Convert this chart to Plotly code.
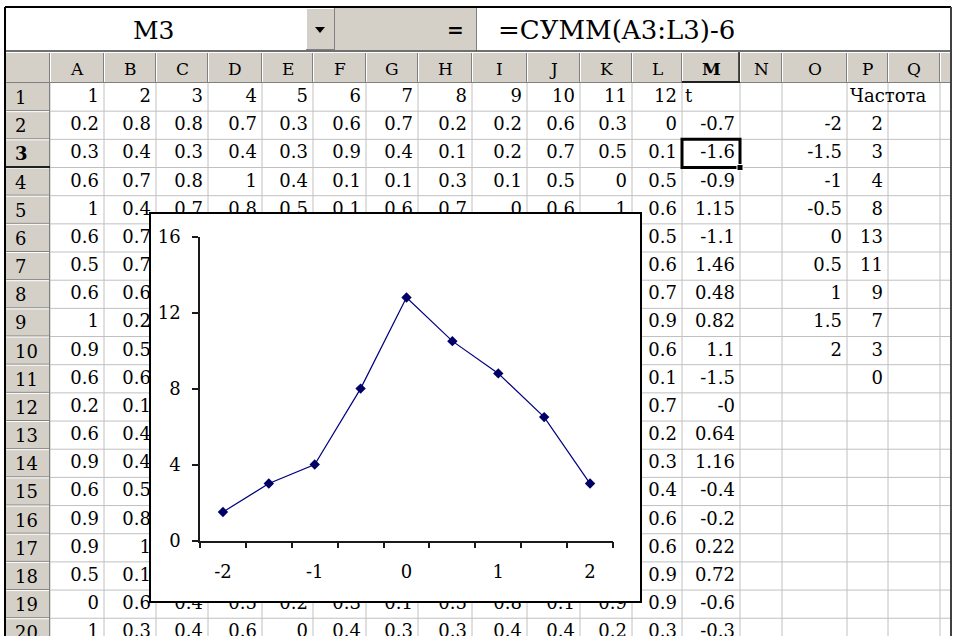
import plotly.graph_objects as go

# ---------------- worksheet contents ----------------
name_box = "M3"
formula_text = "=СУММ(A3:L3)-6"
col_letters = ["A", "B", "C", "D", "E", "F", "G", "H", "I", "J", "K", "L", "M", "N", "O", "P", "Q"]
row_labels = ["1", "2", "3", "4", "5", "6", "7", "8", "9", "10",
              "11", "12", "13", "14", "15", "16", "17", "18", "19", "20"]

# columns A..L ("" = cell lies under the embedded chart)
cells_A_L = [
    ["1", "2", "3", "4", "5", "6", "7", "8", "9", "10", "11", "12"],
    ["0.2", "0.8", "0.8", "0.7", "0.3", "0.6", "0.7", "0.2", "0.2", "0.6", "0.3", "0"],
    ["0.3", "0.4", "0.3", "0.4", "0.3", "0.9", "0.4", "0.1", "0.2", "0.7", "0.5", "0.1"],
    ["0.6", "0.7", "0.8", "1", "0.4", "0.1", "0.1", "0.3", "0.1", "0.5", "0", "0.5"],
    ["1", "0.4", "0.7", "0.8", "0.5", "0.1", "0.6", "0.7", "0", "0.6", "1", "0.6"],
    ["0.6", "0.7", "", "", "", "", "", "", "", "", "", "0.5"],
    ["0.5", "0.7", "", "", "", "", "", "", "", "", "", "0.6"],
    ["0.6", "0.6", "", "", "", "", "", "", "", "", "", "0.7"],
    ["1", "0.2", "", "", "", "", "", "", "", "", "", "0.9"],
    ["0.9", "0.5", "", "", "", "", "", "", "", "", "", "0.6"],
    ["0.6", "0.6", "", "", "", "", "", "", "", "", "", "0.1"],
    ["0.2", "0.1", "", "", "", "", "", "", "", "", "", "0.7"],
    ["0.6", "0.4", "", "", "", "", "", "", "", "", "", "0.2"],
    ["0.9", "0.4", "", "", "", "", "", "", "", "", "", "0.3"],
    ["0.6", "0.5", "", "", "", "", "", "", "", "", "", "0.4"],
    ["0.9", "0.8", "", "", "", "", "", "", "", "", "", "0.6"],
    ["0.9", "1", "", "", "", "", "", "", "", "", "", "0.6"],
    ["0.5", "0.1", "", "", "", "", "", "", "", "", "", "0.9"],
    ["0", "0.6", "0.4", "0.5", "0.2", "0.3", "0.1", "0.5", "0.8", "0.1", "0.9", "0.9"],
    ["1", "0.3", "0.4", "0.6", "0", "0.4", "0.3", "0.3", "0.4", "0.4", "0.2", "0.3"],
]
# column M: t = sum - 6
t_header = "t"
t_values = ["-0.7", "-1.6", "-0.9", "1.15", "-1.1", "1.46", "0.48", "0.82", "1.1", "-1.5",
            "-0", "0.64", "1.16", "-0.4", "-0.2", "0.22", "0.72", "-0.6", "-0.3"]
# columns O and P: bins and frequencies
bins = [-2, -1.5, -1, -0.5, 0, 0.5, 1, 1.5, 2]
bin_labels = ["-2", "-1.5", "-1", "-0.5", "0", "0.5", "1", "1.5", "2"]
freq_header = "Частота"
freq_values = ["2", "3", "4", "8", "13", "11", "9", "7", "3", "0"]

# ---------------- embedded chart ----------------
chart_y = [1.5, 3, 4, 8, 12.8, 10.5, 8.8, 6.5, 3]
x_tick_vals = [-2, -1, 0, 1, 2]
x_tick_text = ["-2", "-1", "0", "1", "2"]
y_tick_vals = [0, 4, 8, 12, 16]
y_tick_text = ["0", "4", "8", "12", "16"]

# ---------------- sheet geometry (pixels) ----------------
W, H = 955, 636
col_edges = [5, 50, 104, 156, 208, 262, 313, 366, 418, 472, 527, 580, 632,
             682, 740, 782, 847, 888, 940, 951]
HDR_TOP, HDR_BOT = 52, 83
ROW_H = 28.17
GRID = "#c0c0c0"
FACE = "#d4d0c8"
SHADOW = "#808080"
FONT = "DejaVu Serif"


def row_mid(r):
    return HDR_BOT + (r - 0.5) * ROW_H + 0.5


def col_left(j):
    return col_edges[j + 1]


def col_right(j):
    return col_edges[j + 2]


fig = go.Figure()

# right-aligned numeric cells
nx, ny, nt = [], [], []
for r, row in enumerate(cells_A_L, start=1):
    for j, txt in enumerate(row):
        if txt:
            nx.append(col_right(j) - 5)
            ny.append(row_mid(r))
            nt.append(txt)
for r, txt in enumerate(t_values, start=2):
    nx.append(col_right(12) - 5)
    ny.append(row_mid(r))
    nt.append(txt)
for r, txt in enumerate(bin_labels, start=2):
    nx.append(col_right(14) - 5)
    ny.append(row_mid(r))
    nt.append(txt)
for r, txt in enumerate(freq_values, start=2):
    nx.append(col_right(15) - 5)
    ny.append(row_mid(r))
    nt.append(txt)

fig.add_trace(go.Scatter(
    x=nx, y=ny, text=nt, mode="text", textposition="middle left",
    textfont=dict(family=FONT, size=18, color="black"),
    xaxis="x", yaxis="y", showlegend=False, hoverinfo="skip", cliponaxis=False))

# left-aligned text cells
fig.add_trace(go.Scatter(
    x=[col_left(12) + 3, col_left(15) + 3], y=[row_mid(1), row_mid(1)],
    text=[t_header, freq_header], mode="text", textposition="middle right",
    textfont=dict(family=FONT, size=18, color="black"),
    xaxis="x", yaxis="y", showlegend=False, hoverinfo="skip", cliponaxis=False))

# chart panel (covers the cells beneath it)
fig.add_trace(go.Scatter(x=[None], y=[None], xaxis="x2", yaxis="y2",
                         showlegend=False, hoverinfo="skip"))

# the frequency polygon
fig.add_trace(go.Scatter(
    x=bins, y=chart_y, mode="lines+markers", xaxis="x3", yaxis="y3",
    line=dict(color="#000080", width=1.2),
    marker=dict(symbol="diamond", size=8, color="#000066"),
    showlegend=False, hoverinfo="skip"))

shapes = []


def rect(x0, y0, x1, y1, fill=None, line=None, width=0, layer="below", ref=("x", "y")):
    shapes.append(dict(type="rect", xref=ref[0], yref=ref[1], x0=x0, y0=y0, x1=x1, y1=y1,
                       fillcolor=fill if fill else "rgba(0,0,0,0)",
                       line=dict(color=line if line else "rgba(0,0,0,0)", width=width),
                       layer=layer))


def seg(x0, y0, x1, y1, color, width=1, layer="below"):
    shapes.append(dict(type="line", xref="x", yref="y", x0=x0, y0=y0, x1=x1, y1=y1,
                       line=dict(color=color, width=width), layer=layer))


# formula bar
rect(306, 8, 335, 50, fill=FACE)
seg(306.5, 8, 306.5, 50, "#ffffff")
seg(306, 8.5, 335, 8.5, "#ffffff")
seg(334.5, 8, 334.5, 50, SHADOW)
seg(306, 49.5, 335, 49.5, SHADOW)
shapes.append(dict(type="path", xref="x", yref="y", path="M 315 27 L 325 27 L 320 33 Z",
                   fillcolor="black", line=dict(width=0), layer="below"))
rect(335, 8, 476, 50, fill=FACE)
seg(476.5, 8, 476.5, 51, SHADOW)
seg(5, 51, 951, 51, "#404040", 1.5)

# header row and row-header column
rect(5, HDR_TOP, 951, HDR_BOT, fill=FACE)
rect(5, HDR_BOT, 50, H, fill=FACE)

# cell gridlines
for x in col_edges[1:-1]:
    seg(x, HDR_BOT, x, H, GRID)
for r in range(1, 21):
    y = HDR_BOT + r * ROW_H
    seg(50, y, 951, y, GRID)

# header bevels
for x in col_edges[1:-1]:
    seg(x - 0.5, HDR_TOP, x - 0.5, HDR_BOT, SHADOW)
    seg(x + 0.5, HDR_TOP, x + 0.5, HDR_BOT, "#ffffff")
seg(5, HDR_BOT - 0.5, 951, HDR_BOT - 0.5, SHADOW)
seg(5, HDR_TOP + 0.5, 951, HDR_TOP + 0.5, "#ffffff")
for r in range(1, 21):
    y = HDR_BOT + r * ROW_H
    seg(5, y - 0.5, 50, y - 0.5, SHADOW)
    seg(5, y + 0.5, 50, y + 0.5, "#ffffff")
seg(49.5, HDR_BOT, 49.5, H, SHADOW)
# selected row / column headers
seg(5, HDR_BOT + 3 * ROW_H - 0.5, 50, HDR_BOT + 3 * ROW_H - 0.5, "#202020", 2)
seg(col_left(12), HDR_BOT - 1, col_right(12), HDR_BOT - 1, "#202020", 2)
seg(col_right(12) - 1, HDR_TOP, col_right(12) - 1, HDR_BOT, "#202020", 1.5)

# active cell M3
rect(col_left(12), HDR_BOT + 2 * ROW_H, col_right(12), HDR_BOT + 3 * ROW_H,
     line="black", width=3)
rect(col_right(12) - 3, HDR_BOT + 3 * ROW_H - 3, col_right(12) + 3, HDR_BOT + 3 * ROW_H + 3,
     fill="black", line="white", width=1)

# window frame
seg(5, 7, 951, 7, "black", 2)
seg(5, 7, 5, H, "black", 2)
seg(951, 7, 951, H, "#404040", 2)

# chart panel fill and border
rect(0, 0, 1, 1, fill="white", ref=("x2", "y2"))
rect(150, 213, 641, 602, line="black", width=2, layer="above")

annotations = []
annotations.append(dict(x=154, y=30, xref="x", yref="y", text=name_box, showarrow=False,
                        font=dict(family=FONT, size=25, color="black")))
annotations.append(dict(x=455, y=30, xref="x", yref="y", text="<b>=</b>", showarrow=False,
                        font=dict(family="DejaVu Sans", size=20, color="black")))
annotations.append(dict(x=496, y=30, xref="x", yref="y", text=formula_text, showarrow=False,
                        xanchor="left", font=dict(family=FONT, size=26, color="black")))
for j, letter in enumerate(col_letters):
    txt = "<b>%s</b>" % letter if letter == "M" else letter
    annotations.append(dict(x=(col_left(j) + col_right(j)) / 2, y=(HDR_TOP + HDR_BOT) / 2 + 1,
                            xref="x", yref="y", text=txt, showarrow=False,
                            font=dict(family=FONT, size=17, color="black")))
for r, lab in enumerate(row_labels, start=1):
    txt = "<b>%s</b>" % lab if lab == "3" else lab
    annotations.append(dict(x=13, y=row_mid(r), xref="x", yref="y", text=txt, showarrow=False,
                            xanchor="left", font=dict(family=FONT, size=18, color="black")))

# category boundaries of the chart's x axis
half = (bins[1] - bins[0]) / 2
boundaries = [b - half for b in bins] + [bins[-1] + half]

fig.update_layout(
    width=W, height=H, autosize=False,
    margin=dict(l=0, r=0, t=0, b=0, pad=0, autoexpand=False),
    paper_bgcolor="white", plot_bgcolor="white",
    shapes=shapes, annotations=annotations,
    xaxis=dict(domain=[0, 1], range=[0, W], visible=False, fixedrange=True, automargin=False),
    yaxis=dict(domain=[0, 1], range=[H, 0], visible=False, fixedrange=True, automargin=False),
    xaxis2=dict(domain=[150 / W, 641 / W], range=[0, 1], visible=False, anchor="y2",
                automargin=False),
    yaxis2=dict(domain=[1 - 602 / H, 1 - 213 / H], range=[0, 1], visible=False, anchor="x2",
                automargin=False),
    xaxis3=dict(domain=[200 / W, 613 / W], range=[boundaries[0], boundaries[-1]], anchor="y3",
                automargin=False,
                showline=True, linecolor="#1a1a1a", linewidth=1.5, showgrid=False, zeroline=False,
                tickmode="array", tickvals=x_tick_vals, ticktext=x_tick_text, ticks="",
                minor=dict(tickmode="array", tickvals=boundaries, ticks="outside", ticklen=6,
                           tickwidth=1.5, tickcolor="#1a1a1a", showgrid=False),
                tickfont=dict(family=FONT, size=18, color="black"), ticklabelstandoff=14),
    yaxis3=dict(domain=[1 - 540.5 / H, 1 - 236.7 / H], range=[0, 16], anchor="x3",
                automargin=False,
                showline=True, linecolor="#1a1a1a", linewidth=1.5, showgrid=False, zeroline=False,
                tickmode="array", tickvals=y_tick_vals, ticktext=y_tick_text, ticks="outside",
                ticklen=6, tickwidth=1.5, tickcolor="#1a1a1a",
                tickfont=dict(family=FONT, size=18, color="black"), ticklabelstandoff=8),
)

fig.write_html("out.html")
